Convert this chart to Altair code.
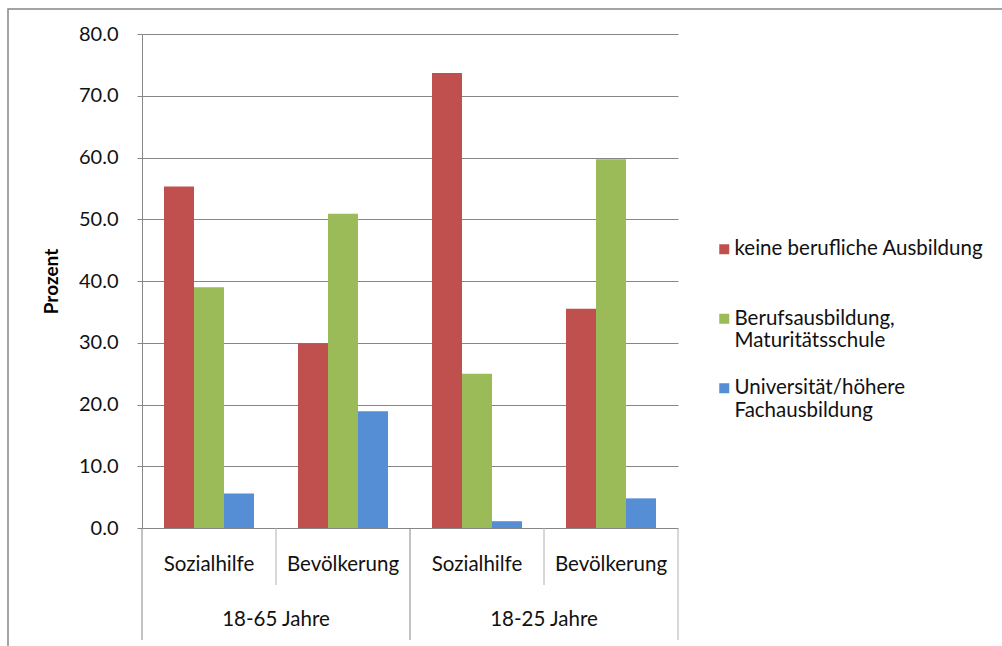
import altair as alt
import pandas as pd

# Daten: Bildungsniveau nach Gruppe und Altersklasse (in Prozent)
altersklassen = ["18-65 Jahre", "18-65 Jahre", "18-25 Jahre", "18-25 Jahre"]
gruppen = ["Sozialhilfe", "Bevölkerung", "Sozialhilfe", "Bevölkerung"]
bildung = [
    "keine berufliche Ausbildung",
    "Berufsausbildung, Maturitätsschule",
    "Universität/höhere Fachausbildung",
]
keine_ausbildung = [55.3, 29.9, 73.7, 35.5]
berufsausbildung = [39.0, 50.9, 25.0, 59.7]
hochschule = [5.6, 18.9, 1.1, 4.8]
farben = ["#C0504D", "#9BBB59", "#558ED5"]

kategorien = [f"{a}|{g}" for a, g in zip(altersklassen, gruppen)]
werte = [keine_ausbildung, berufsausbildung, hochschule]

rows = []
for s, name in enumerate(bildung):
    for k, kat in enumerate(kategorien):
        rows.append({"Kategorie": kat, "Bildung": name, "Prozent": werte[s][k]})
df = pd.DataFrame(rows)

kat_df = pd.DataFrame({
    "Kategorie": kategorien,
    "Altersklasse": altersklassen,
    "Gruppe": gruppen,
})

W, H = 536, 494
FONT = "Lato"
GRAU = "#868686"
TEXT = "#111111"

x_scale = alt.Scale(domain=kategorien, paddingInner=0, paddingOuter=0)

bars = alt.Chart(df).mark_bar().encode(
    x=alt.X(
        "Kategorie:N",
        sort=kategorien,
        scale=x_scale,
        axis=alt.Axis(
            title=None,
            labelExpr="split(datum.label, '|')[1]",
            labelAngle=0,
            ticks=False,
            domain=False,
            labelPadding=26,
            labelFontSize=20.5,
            labelFont=FONT,
            labelColor=TEXT,
        ),
    ),
    xOffset=alt.XOffset(
        "Bildung:N",
        sort=bildung,
        scale=alt.Scale(domain=bildung, paddingInner=0, paddingOuter=0.733),
    ),
    y=alt.Y(
        "Prozent:Q",
        scale=alt.Scale(domain=[0, 80], nice=False),
        axis=alt.Axis(
            title="Prozent",
            values=list(range(0, 81, 10)),
            format=".1f",
            grid=True,
            gridColor=GRAU,
            domainColor=GRAU,
            tickColor=GRAU,
            tickSize=5,
            labelPadding=19,
            labelFontSize=20,
            labelFont=FONT,
            labelColor=TEXT,
            titleFont=FONT,
            titleFontSize=19,
            titleFontWeight="bold",
            titleColor="#000000",
            titlePadding=17,
        ),
    ),
    color=alt.Color(
        "Bildung:N",
        sort=bildung,
        scale=alt.Scale(domain=bildung, range=farben),
        legend=alt.Legend(
            title=None,
            orient="none",
            legendX=572,
            legendY=205,
            symbolType="square",
            symbolSize=100,
            symbolStrokeWidth=0,
            labelFont=FONT,
            labelFontSize=20.5,
            labelColor=TEXT,
            labelExpr=(
                "indexof(datum.label, 'keine') == 0"
                " ? [datum.label, ''] : split(datum.label, ' ')"
            ),
            labelLimit=400,
            labelOffset=0,
            rowPadding=25.5,
            gridAlign="all",
        ),
    ),
)

# Trennlinien der zweistufigen Kategorienachse
lang = alt.Chart(kat_df).mark_rule(color=GRAU, strokeWidth=1).encode(
    x=alt.X("Kategorie:N", sort=kategorien, scale=x_scale, bandPosition=0),
    y=alt.value(H),
    y2=alt.value(H + 112),
).transform_filter(alt.datum.Gruppe == "Sozialhilfe")

kurz = alt.Chart(kat_df).mark_rule(color="#B0B0B0", strokeWidth=1).encode(
    x=alt.X("Kategorie:N", sort=kategorien, scale=x_scale, bandPosition=0),
    y=alt.value(H),
    y2=alt.value(H + 57),
).transform_filter(alt.datum.Gruppe == "Bevölkerung")

rand = alt.Chart(kat_df).mark_rule(color="#B0B0B0", strokeWidth=1).encode(
    x=alt.X("Kategorie:N", sort=kategorien, scale=x_scale, bandPosition=1),
    y=alt.value(H),
    y2=alt.value(H + 112),
).transform_filter(alt.datum.Kategorie == kategorien[-1])

alter_text = alt.Chart(kat_df).mark_text(
    font=FONT, fontSize=20.5, color=TEXT, baseline="middle"
).encode(
    x=alt.X("Kategorie:N", sort=kategorien, scale=x_scale, bandPosition=0),
    y=alt.value(H + 92),
    text="Altersklasse:N",
).transform_filter(alt.datum.Gruppe == "Bevölkerung")

rahmen = alt.Chart(pd.DataFrame({"r": [0]})).mark_rect(
    fill=None, stroke=GRAU, strokeWidth=1.5
).encode(
    x=alt.value(-134),
    x2=alt.value(900),
    y=alt.value(-25),
    y2=alt.value(640),
)

chart = alt.layer(rahmen, bars, lang, kurz, rand, alter_text).properties(
    width=W,
    height=H,
    autosize=alt.AutoSizeParams(type="none"),
    padding={"left": 142, "top": 34, "right": 324, "bottom": 118},
    background="white",
).configure_view(stroke=None)

chart.save("out.html", embed_options={"renderer": "svg", "actions": False})
